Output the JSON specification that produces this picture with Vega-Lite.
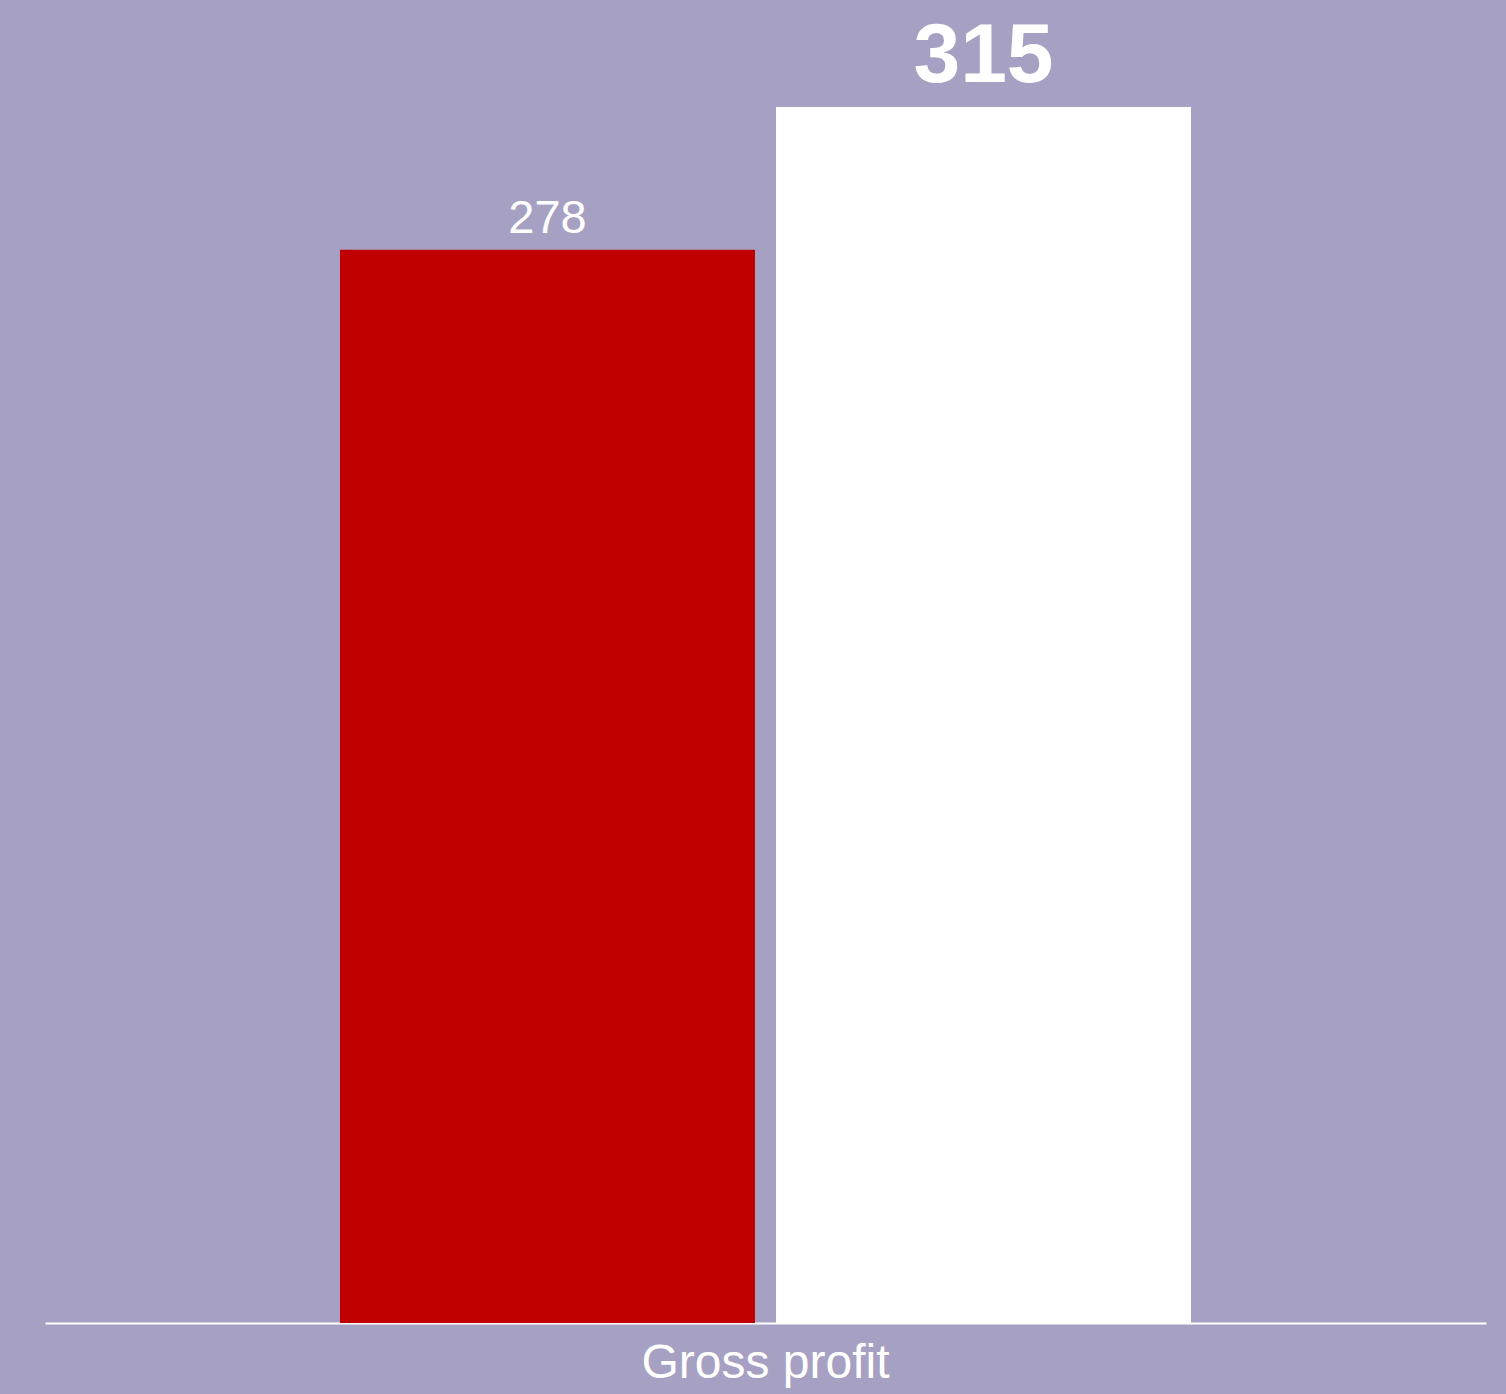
{
  "$schema": "https://vega.github.io/schema/vega-lite/v6.json",
  "width": 1441,
  "height": 1323,
  "autosize": {"type": "none"},
  "padding": {"left": 45, "top": 0, "right": 20, "bottom": 71},
  "background": "#a6a0c3",
  "config": {"view": {"stroke": null}, "font": "Liberation Sans"},
  "data": {
    "values": [
      {"category": "Gross profit", "period": "Prior", "value": 278},
      {"category": "Gross profit", "period": "Current", "value": 315}
    ]
  },
  "encoding": {
    "x": {
      "field": "category",
      "type": "nominal",
      "scale": {"paddingInner": 0, "paddingOuter": 0.34665},
      "axis": {
        "title": null,
        "labelAngle": 0,
        "labelFontSize": 48,
        "labelColor": "#ffffff",
        "labelFont": "Liberation Sans",
        "labelPadding": 16,
        "labelLimit": 1000,
        "ticks": false,
        "domainColor": "#ffffff",
        "domainWidth": 2,
        "grid": false
      }
    },
    "xOffset": {
      "field": "period",
      "type": "nominal",
      "sort": ["Prior", "Current"],
      "scale": {"paddingInner": 0.0482, "paddingOuter": 0}
    },
    "y": {
      "field": "value",
      "type": "quantitative",
      "scale": {"domain": [0, 342.7], "nice": false, "zero": true},
      "axis": null
    }
  },
  "layer": [
    {
      "mark": {"type": "bar"},
      "encoding": {
        "color": {
          "field": "period",
          "type": "nominal",
          "scale": {"domain": ["Prior", "Current"], "range": ["#c00000", "#ffffff"]},
          "legend": null
        }
      }
    },
    {
      "transform": [{"filter": "datum.period === 'Prior'"}],
      "mark": {"type": "text", "color": "#ffffff", "fontSize": 47, "baseline": "alphabetic", "dy": -17, "font": "Liberation Sans"},
      "encoding": {"text": {"field": "value", "type": "quantitative"}}
    },
    {
      "transform": [{"filter": "datum.period === 'Current'"}],
      "mark": {"type": "text", "color": "#ffffff", "fontSize": 84, "fontWeight": "bold", "baseline": "alphabetic", "dy": -25, "font": "Liberation Sans"},
      "encoding": {"text": {"field": "value", "type": "quantitative"}}
    }
  ]
}
